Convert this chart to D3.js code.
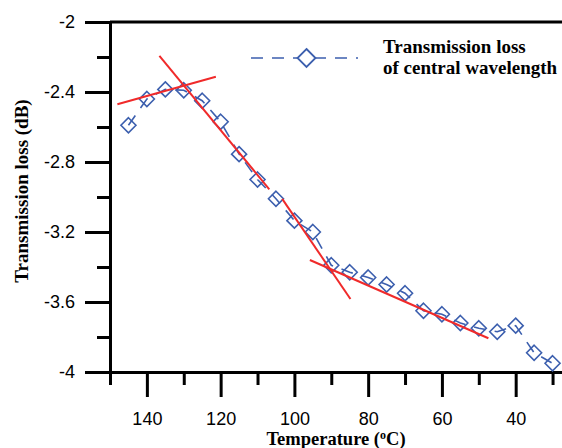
<!DOCTYPE html>
<html>
<head>
<meta charset="utf-8">
<script src="https://cdn.jsdelivr.net/npm/d3@7"></script>
<style>
  body { margin: 0; background: #fff; }
  svg { display: block; }
</style>
</head>
<body>
<div id="chart"></div>
<script>
// data
var temps = [145, 140, 135, 130, 125, 120, 115, 110, 105, 100, 95, 90, 85, 80, 75, 70, 65, 60, 55, 50, 45, 40, 35, 30];
var loss = [-2.59, -2.44, -2.385, -2.39, -2.45, -2.57, -2.755, -2.90, -3.01, -3.135, -3.20, -3.39, -3.43, -3.46, -3.50, -3.55, -3.65, -3.67, -3.72, -3.75, -3.77, -3.735, -3.89, -3.95];

// red fit segments [t1, v1, t2, v2]
var fitLines = [
  [148, -2.47, 121.3, -2.313],
  [136.6, -2.194, 106.8, -2.956],
  [103.3, -3.011, 84.8, -3.583],
  [95.8, -3.36, 47.4, -3.807]
];

var yMajor = [-2, -2.4, -2.8, -3.2, -3.6, -4];
var yMinor = [-2.2, -2.6, -3.0, -3.4, -3.8];
var xMajor = [140, 120, 100, 80, 60, 40];
var xMinor = [150, 130, 110, 90, 70, 50, 30];

var width = 562, height = 448;
var blue = "#3c5fae", red = "#f02a2a";

var svg = d3.select("#chart").append("svg")
  .attr("width", width)
  .attr("height", height);

var x = d3.scaleLinear().domain([150, 25]).range([110, 571]);
var y = d3.scaleLinear().domain([-4, -2]).range([372, 22]);

// axes
var fmt = function(d) { return String(d); };

svg.append("g")
  .attr("transform", "translate(" + x(150) + ",0)")
  .call(d3.axisLeft(y).tickValues(yMinor).tickSize(13).tickSizeOuter(0).tickFormat(""))
  .call(function(g) { g.select(".domain").remove(); });

var ya = svg.append("g")
  .attr("transform", "translate(" + x(150) + ",0)")
  .call(d3.axisLeft(y).tickValues(yMajor).tickSize(25).tickSizeOuter(0).tickPadding(10).tickFormat(fmt));

svg.append("g")
  .attr("transform", "translate(0," + y(-4) + ")")
  .call(d3.axisBottom(x).tickValues(xMinor).tickSize(13).tickSizeOuter(0).tickFormat(""))
  .call(function(g) { g.select(".domain").remove(); });

var xa = svg.append("g")
  .attr("transform", "translate(0," + y(-4) + ")")
  .call(d3.axisBottom(x).tickValues(xMajor).tickSize(25).tickSizeOuter(0).tickPadding(15).tickFormat(fmt));

svg.selectAll(".tick line, .domain").attr("stroke", "#000").attr("stroke-width", 3);
svg.selectAll(".tick text")
  .style("font-family", "Liberation Sans, Arial, sans-serif")
  .style("font-size", "18px")
  .attr("fill", "#000");

// top border
svg.append("line")
  .attr("x1", x(150)).attr("x2", width + 10)
  .attr("y1", y(-2)).attr("y2", y(-2))
  .attr("stroke", "#000").attr("stroke-width", 3);

// data line
var line = d3.line()
  .x(function(d) { return x(d[0]); })
  .y(function(d) { return y(d[1]); });

var pts = d3.zip(temps, loss);

svg.append("path")
  .datum(pts)
  .attr("d", line)
  .attr("fill", "none")
  .attr("stroke", blue)
  .attr("stroke-width", 1.6)
  .attr("stroke-dasharray", "12,9");

var diamond = function(cx, cy, r) {
  return "M" + cx + "," + (cy - r) + "L" + (cx + r) + "," + cy + "L" + cx + "," + (cy + r) + "L" + (cx - r) + "," + cy + "Z";
};

svg.selectAll(".pt")
  .data(pts)
  .enter().append("path")
  .attr("class", "pt")
  .attr("d", function(d) { return diamond(x(d[0]), y(d[1]), 7.5); })
  .attr("fill", "none")
  .attr("stroke", blue)
  .attr("stroke-width", 1.6);

// fit lines
svg.selectAll(".fit")
  .data(fitLines)
  .enter().append("line")
  .attr("x1", function(d) { return x(d[0]); })
  .attr("y1", function(d) { return y(d[1]); })
  .attr("x2", function(d) { return x(d[2]); })
  .attr("y2", function(d) { return y(d[3]); })
  .attr("stroke", red)
  .attr("stroke-width", 2);

// legend
svg.append("line")
  .attr("x1", 251).attr("x2", 358)
  .attr("y1", 58).attr("y2", 58)
  .attr("stroke", blue)
  .attr("stroke-width", 1.6)
  .attr("stroke-dasharray", "12,9");
svg.append("path")
  .attr("d", diamond(306.5, 58, 9))
  .attr("fill", "#fff")
  .attr("stroke", blue)
  .attr("stroke-width", 1.8);

var leg = svg.append("text")
  .attr("x", 383)
  .style("font-family", "Liberation Serif, Times New Roman, serif")
  .style("font-weight", "bold")
  .style("font-size", "19px");
leg.append("tspan").attr("x", 383).attr("y", 53).text("Transmission loss");
leg.append("tspan").attr("x", 383).attr("y", 74).text("of central wavelength");

// axis titles
var xt = svg.append("text")
  .attr("x", 336).attr("y", 445)
  .attr("text-anchor", "middle")
  .style("font-family", "Liberation Serif, Times New Roman, serif")
  .style("font-weight", "bold")
  .style("font-size", "18.5px");
xt.append("tspan").text("Temperature (");
xt.append("tspan").attr("dy", -6).style("font-size", "12px").text("o");
xt.append("tspan").attr("dy", 6).text("C)");

svg.append("text")
  .attr("transform", "translate(28,191) rotate(-90)")
  .attr("text-anchor", "middle")
  .style("font-family", "Liberation Serif, Times New Roman, serif")
  .style("font-weight", "bold")
  .style("font-size", "19px")
  .text("Transmission loss (dB)");
</script>
</body>
</html>
